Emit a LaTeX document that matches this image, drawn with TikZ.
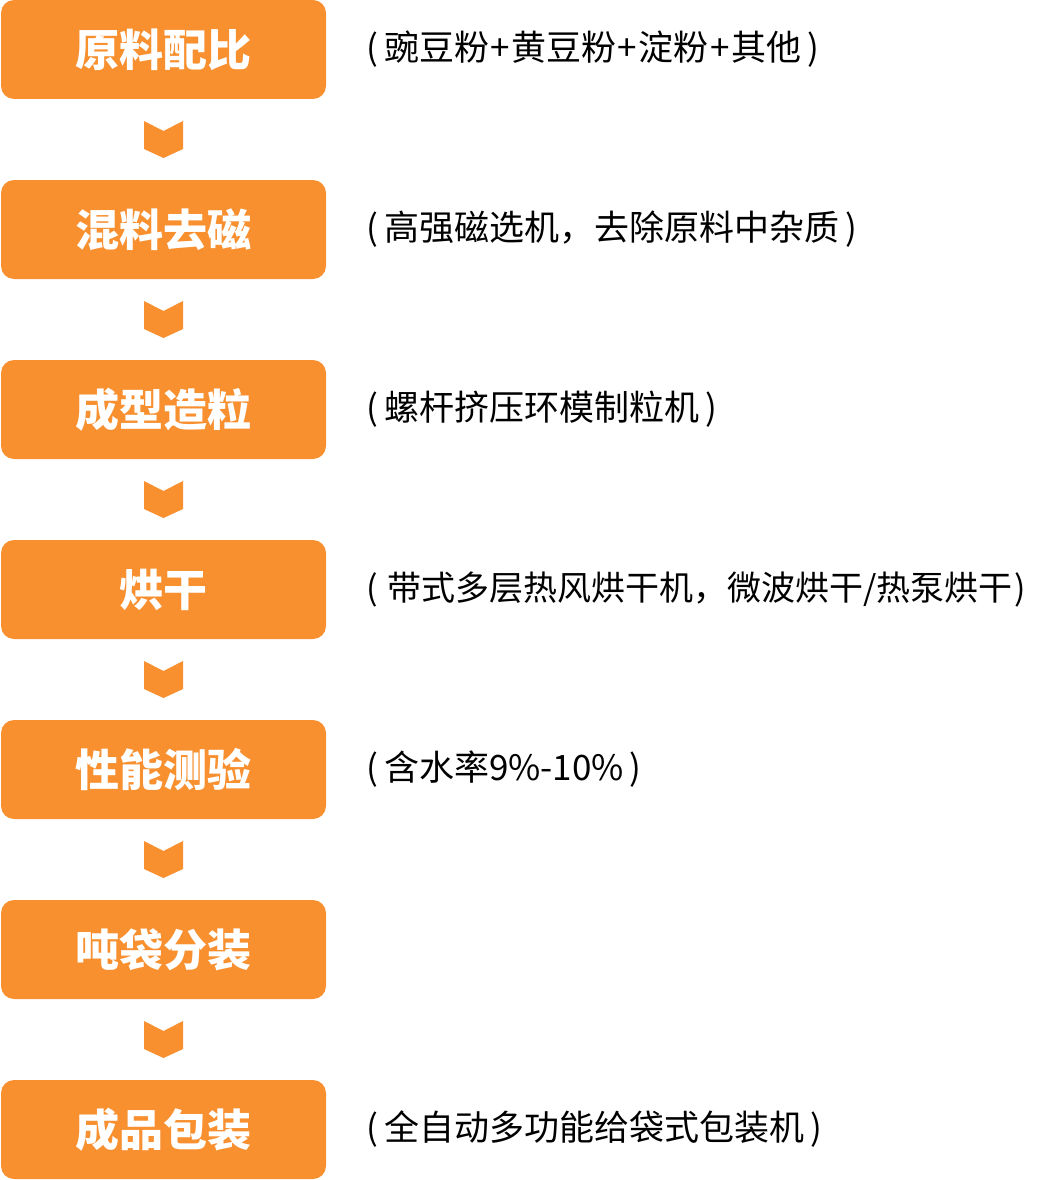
\documentclass[tikz,border=0pt]{standalone}
\usepackage{fontspec}
\newfontfamily\cjk{Noto Sans CJK SC}
\usetikzlibrary{calc}
\definecolor{boxorange}{RGB}{248,144,48}
\newcommand{\lpar}[1][6pt]{(\hspace{#1}}
\newcommand{\rpar}[1][6pt]{\hspace{#1})}
\newcommand{\pls}{\hspace{1.5pt}+\hspace{1.5pt}}

\begin{document}
\begin{tikzpicture}[
    x=1pt, y=-1pt,
    stepbox/.style={rectangle, rounded corners=13pt, fill=boxorange,
        minimum width=325pt, minimum height=99pt, inner sep=0pt,
        text=white, font=\cjk\bfseries\fontsize{44}{44}\selectfont},
    note/.style={anchor=west, inner sep=0pt,
        font=\cjk\fontsize{35}{35}\selectfont}
]
\useasboundingbox (0,0) rectangle (1042,1180);

% ======================
% Process steps
% ======================
\node[stepbox] (s1) at (163.5,  49.5) {原料配比};
\node[stepbox] (s2) at (163.5, 229.5) {混料去磁};
\node[stepbox] (s3) at (163.5, 409.5) {成型造粒};
\node[stepbox] (s4) at (163.5, 589.5) {烘干};
\node[stepbox] (s5) at (163.5, 769.5) {性能测验};
\node[stepbox] (s6) at (163.5, 949.5) {吨袋分装};
\node[stepbox] (s7) at (163.5,1129.5) {成品包装};

% ======================
% Notes
% ======================
\node[note] (n1) at (366,  49.5) {\lpar 豌豆粉\pls 黄豆粉\pls 淀粉\pls 其他\rpar};
\node[note] (n2) at (366, 229.5) {\lpar 高强磁选机，去除原料中杂质\rpar};
\node[note] (n3) at (366, 409.5) {\lpar 螺杆挤压环模制粒机\rpar};
\node[note, font=\cjk\fontsize{34}{34}\selectfont] (n4) at (366, 589.5)
    {\lpar[2pt] 带式多层热风烘干机，微波烘干/热泵烘干\rpar[2pt]};
\node[note] (n5) at (366, 769.5) {\lpar 含水率9\%-10\%\rpar};
\node[note] (n7) at (366,1129.5) {\lpar 全自动多功能给袋式包装机\rpar};

% ======================
% Chevrons between steps
% ======================
\foreach \a/\b in {s1/s2,s2/s3,s3/s4,s4/s5,s5/s6,s6/s7} {
    \coordinate (m) at ($(\a.south)!0.5!(\b.north)$);
    \fill[boxorange] ($(m)+(-19.5,-18.5)$) -- ($(m)+(0,-8.5)$)
        -- ($(m)+(19.5,-18.5)$) -- ($(m)+(19.5,9.5)$)
        -- ($(m)+(0,18.5)$) -- ($(m)+(-19.5,9.5)$) -- cycle;
}

\end{tikzpicture}
\end{document}
